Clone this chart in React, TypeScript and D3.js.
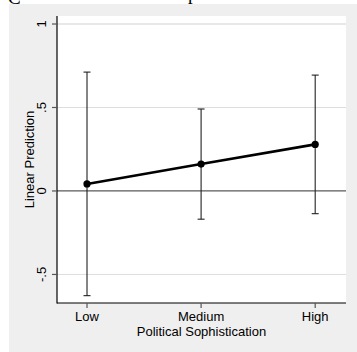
import React from "react";
import * as d3 from "d3";

const categories = ["Low", "Medium", "High"];
const predictions = [0.042, 0.161, 0.279];
const lowerCI = [-0.627, -0.169, -0.136];
const upperCI = [0.712, 0.491, 0.694];
const yTicks = [-0.5, 0, 0.5, 1];
const yTickLabels = ["-.5", "0", ".5", "1"];
const xTitle = "Political Sophistication";
const yTitle = "Linear Prediction";

const W = 357;
const H = 352;
const plot = { left: 57, right: 346, top: 16, bottom: 303 };
const FONT = "'Liberation Sans', Arial, Helvetica, sans-serif";

export default function App() {
  const x = d3.scaleLinear().domain([0.737, 3.27]).range([plot.left, plot.right]);
  const y = d3.scaleLinear().domain([-0.671, 1.048]).range([plot.bottom, plot.top]);
  const pos = (i: number) => x(i + 1);
  const line = d3
    .line<number>()
    .x((_, i) => pos(i))
    .y((d) => y(d));

  return (
    <svg
      width={W}
      height={H}
      style={{ position: "absolute", left: 0, top: 0, display: "block" }}
      fontFamily={FONT}
    >
      <rect x={0} y={0} width={W} height={H} fill="#ffffff" />
      {/* remnants of page text above */}
      <text x={8} y={4} fontFamily="'Liberation Serif', 'DejaVu Serif', serif" fontSize={19} fill="#000">C</text>
      <text x={188} y={0} fontFamily="'Liberation Serif', 'DejaVu Serif', serif" fontSize={19} fill="#000">p</text>
      {/* graph region */}
      <rect x={9} y={4} width={W - 9} height={H - 4} fill="#efefef" />
      {/* plot region */}
      <rect x={plot.left} y={plot.top} width={plot.right - plot.left} height={plot.bottom - plot.top} fill="#ffffff" />
      {/* gridlines */}
      {yTicks.map((t) =>
        t === 0 ? null : (
          <line
            key={"g" + t}
            x1={plot.left}
            x2={plot.right}
            y1={y(t)}
            y2={y(t)}
            stroke={t === 1 ? "#e8e8e8" : "#dddddd"}
            strokeWidth={t === 1 ? 2 : 1}
          />
        )
      )}
      {/* zero line */}
      <line x1={plot.left} x2={plot.right} y1={y(0)} y2={y(0)} stroke="#5a5a5a" strokeWidth={1.3} />
      {/* error bars */}
      {categories.map((c, i) => (
        <g key={"e" + c} stroke="#222" strokeWidth={1.1}>
          <line x1={pos(i)} x2={pos(i)} y1={y(lowerCI[i])} y2={y(upperCI[i])} />
          <line x1={pos(i) - 3.5} x2={pos(i) + 3.5} y1={y(lowerCI[i])} y2={y(lowerCI[i])} />
          <line x1={pos(i) - 3.5} x2={pos(i) + 3.5} y1={y(upperCI[i])} y2={y(upperCI[i])} />
        </g>
      ))}
      {/* prediction line */}
      <path d={line(predictions) || ""} fill="none" stroke="#000" strokeWidth={2.6} />
      {predictions.map((p, i) => (
        <circle key={"p" + i} cx={pos(i)} cy={y(p)} r={3.6} fill="#000" />
      ))}
      {/* axes */}
      <line x1={plot.left} x2={plot.left} y1={plot.top} y2={plot.bottom + 0.5} stroke="#000" strokeWidth={1.2} />
      <line x1={plot.left} x2={plot.right} y1={plot.bottom} y2={plot.bottom} stroke="#000" strokeWidth={1.2} />
      {yTicks.map((t, i) => (
        <g key={"yt" + t}>
          <line x1={plot.left - 5} x2={plot.left} y1={y(t)} y2={y(t)} stroke="#555" strokeWidth={1.2} />
          <text
            transform={`translate(${46},${y(t)}) rotate(-90)`}
            textAnchor="middle"
            fontSize={13}
            fill="#000"
          >
            {yTickLabels[i]}
          </text>
        </g>
      ))}
      {categories.map((c, i) => (
        <g key={"xt" + c}>
          <line x1={pos(i)} x2={pos(i)} y1={plot.bottom} y2={plot.bottom + 5} stroke="#555" strokeWidth={1.2} />
          <text x={pos(i)} y={320.5} textAnchor="middle" fontSize={13} fill="#000">
            {c}
          </text>
        </g>
      ))}
      <text x={(plot.left + plot.right) / 2} y={335.5} textAnchor="middle" fontSize={13} fill="#000">
        {xTitle}
      </text>
      <text
        transform={`translate(${34},${(plot.top + plot.bottom) / 2}) rotate(-90)`}
        textAnchor="middle"
        fontSize={13}
        fill="#000"
      >
        {yTitle}
      </text>
    </svg>
  );
}
